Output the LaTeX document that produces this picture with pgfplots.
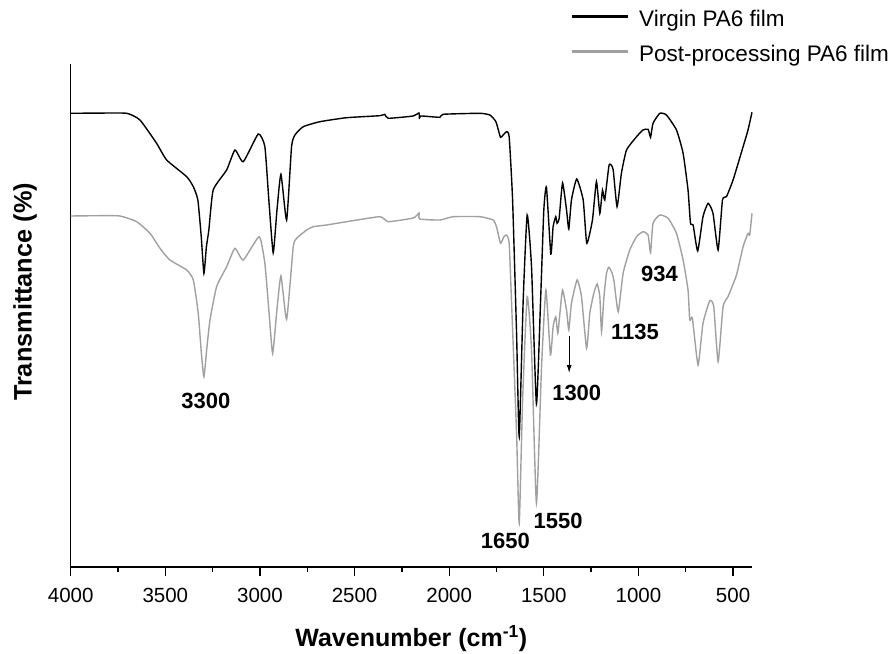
\documentclass[border=0pt]{standalone}
\usepackage{pgfplots}
\pgfplotsset{compat=1.18}
\usepackage{fontspec}
\setmainfont{Liberation Sans}
\usetikzlibrary{arrows.meta}
\definecolor{grayline}{RGB}{160,160,160}

\pgfplotstableread{
x y
4000 453.7
3850 453.9
3704 453.7
3634 447
3546 423.7
3493 407
3387 390.3
3352 380.3
3328 367
3310 330
3296 293.7
3283 320
3270 337
3247 377
3176 397
3132 417
3088 405.3
3009 433
2974 420.3
2953 367
2930 314.3
2910 357
2889 392.7
2859 347
2833 420.3
2815 432
2771 440.3
2683 445.3
2542 449.3
2366 451.3
2340 452.7
2322 448.7
2190 451
2160 454
2157 448
2150 451
2049 449.7
2032 452.7
1838 453.7
1785 452
1759 447
1750 443.7
1729 429.7
1715 432
1697 435.3
1683 430
1665 367
1644 233.7
1630 130.3
1609 267
1588 352
1565 300.3
1539 163
1517 267
1500 357
1486 379.7
1463 313
1451 340.3
1437 350.3
1430 343.7
1419 348.7
1401 384
1380 357
1368 338
1354 367
1326 388
1292 367
1273 323.7
1243 347
1222 385.5
1204 353.7
1190 377
1178 367
1155 402
1134 397.7
1113 360.3
1090 393.7
1063 417
1010 430.3
976 437
949 437.7
936 429.7
923 443.7
887 453.7
852 452
799 437
764 413.7
738 377
725 343.7
711 342
687 316
659 350.3
632 363.7
606 353.7
579 317
556 367
535 370.3
500 387
447 420.3
421 437
400 454.7
}\virgin

\pgfplotstableread{
x y
4000 351
3850 351.3
3740 351
3651 345.3
3581 333.7
3528 318.7
3476 307
3387 297
3352 287
3326 253.7
3310 215
3296 190.3
3280 220
3264 247
3229 280.3
3176 300.3
3132 318.7
3088 307
3004 330.3
2974 303.7
2953 257
2933 213.7
2912 253.7
2889 291
2859 247.7
2824 320.3
2806 328.7
2753 337
2719 340.3
2648 342
2542 345.3
2366 350.3
2322 345.3
2190 349
2159 354
2156 348
2049 347
1979 350.3
1838 350.3
1768 347
1750 340.3
1729 323.7
1711 330.3
1697 332
1683 323.7
1671 267
1644 133.7
1630 43.7
1612 167
1588 270.3
1565 217
1539 63.7
1512 200.3
1489 277
1465 212
1451 240.3
1437 250.3
1426 233.7
1415 253.7
1401 277
1380 257
1368 237
1354 263.7
1324 287
1301 270.3
1274 218.7
1257 253.7
1236 273.7
1218 283
1204 270.3
1195 235.3
1183 268.7
1169 293.7
1157 299.7
1142 295.3
1130 287
1107 255.3
1081 293.7
1046 317
1010 330.3
976 335.3
949 332
936 314.3
923 343.7
887 352
843 348.7
799 333.7
764 307
738 277
729 247
715 248.7
685 202
659 243.7
623 266.3
602 260.3
579 205.3
553 260.3
527 270.3
482 292
447 320.3
421 333.7
412 332
400 353.7
}\post

\begin{document}
\begin{tikzpicture}
\path[use as bounding box] (-70.7pt,-86pt) rectangle (822.3pt,567pt);
\begin{axis}[
  at={(0pt,0pt)}, anchor=south west,
  scale only axis, width=681.3pt, height=503pt,
  x dir=reverse, xmin=400, xmax=4000, ymin=0, ymax=503,
  axis x line*=bottom, axis y line*=left,
  axis line style={line width=1.6pt, black},
  tick align=inside,
  major tick length=9pt, minor tick length=4.5pt,
  tick style={line width=1.3pt, black},
  major x tick style={yshift=-9pt},
  minor x tick style={yshift=-4.5pt},
  xtick={500,1000,...,4000},
  minor xtick={750,1250,...,3750},
  ytick=\empty,
  minor ytick={24,48,...,480},
  /pgf/number format/1000 sep={},
  /pgf/number format/assume math mode=true,
  xticklabel style={font=\fontsize{20.5}{24}\selectfont, inner sep=0pt, anchor=north, yshift=-21.3pt},
  xlabel={\textbf{Wavenumber (cm\textsuperscript{-1})}},
  xlabel style={font=\fontsize{25}{29}\selectfont, at={(axis description cs:0.5,0)}, anchor=base, yshift=-79.5pt},
  ylabel={\textbf{Transmittance (\%)}},
  ylabel style={font=\fontsize{25.3}{29}\selectfont, at={(axis description cs:-0.0671,0.5467)}, anchor=center},
  legend style={at={(axis description cs:0.7329,1.106)}, anchor=north west, draw=none, fill=none,
    inner sep=0pt, outer sep=0pt, font=\fontsize{22.5}{27}\selectfont, row sep=18.4pt,
    nodes={inner sep=0pt, text height=16.1pt, text depth=0pt}},
  legend cell align=left,
  legend image code/.code={\draw[#1, line width=3pt, line cap=butt] (0pt,1.8pt) -- (56pt,1.8pt); \path (67pt,1.8pt);},
  clip=false,
]
\addplot[black, line width=1.4pt, smooth, tension=0.3] table[x=x,y=y] {\virgin};
\addplot[grayline, line width=1.4pt, smooth, tension=0.3] table[x=x,y=y] {\post};
\addlegendimage{black, line width=3pt}
\addlegendentry{Virgin PA6 film}
\addlegendimage{grayline, line width=3pt}
\addlegendentry{Post-processing PA6 film}

\begin{scope}[every node/.style={font=\bfseries\fontsize{22}{26}\selectfont, inner sep=0pt}]
\node at (axis cs:3286,165.8) {3300};
\node at (axis cs:1703,25.7) {1650};
\node at (axis cs:1424,46.5) {1550};
\node at (axis cs:1326,174) {1300};
\node at (axis cs:1018,235.3) {1135};
\node at (axis cs:889,293.5) {934};
\end{scope}
\draw[line width=1pt, -{Latex[length=8pt,width=5pt]}] (axis cs:1366,231) -- (axis cs:1366,194);
\end{axis}
\end{tikzpicture}
\end{document}
